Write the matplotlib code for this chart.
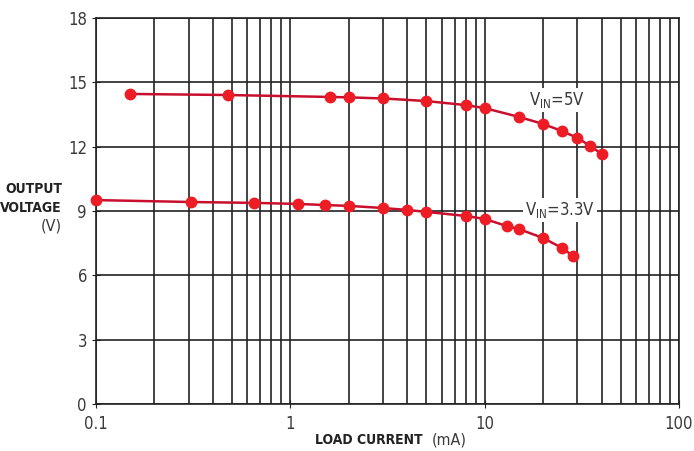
import numpy as np
import matplotlib.pyplot as plt
from matplotlib.ticker import FixedLocator, NullFormatter

# load current (mA) and output voltage (V)
i_5v = [0.15, 0.48, 1.6, 2, 3, 5, 8, 10, 15, 20, 25, 30, 35, 40]
v_5v = [14.46, 14.41, 14.32, 14.3, 14.25, 14.13, 13.94, 13.8, 13.39, 13.06, 12.73, 12.41, 12.03, 11.66]

i_33v = [0.1, 0.31, 0.65, 1.1, 1.5, 2, 3, 4, 5, 8, 10, 13, 15, 20, 25, 28.5]
v_33v = [9.51, 9.42, 9.38, 9.33, 9.28, 9.24, 9.14, 9.05, 8.96, 8.77, 8.63, 8.30, 8.16, 7.74, 7.28, 6.9]

xticks = [0.1, 1, 10, 100]
xlabels = ['0.1', '1', '10', '100']
yticks = [0, 3, 6, 9, 12, 15, 18]

plt.rcParams['font.family'] = ['DejaVu Sans']
plt.rcParams['font.stretch'] = 'condensed'

fig = plt.figure(figsize=(6.94, 4.51), dpi=100)
ax = fig.add_axes([0.1383, 0.1042, 0.8401, 0.8558])

ax.set_xscale('log')
ax.set_xlim(0.1, 100)
ax.set_ylim(0, 18)

minors = [m * d for d in [0.1, 1, 10] for m in range(2, 10)]
ax.xaxis.set_minor_locator(FixedLocator(minors))
ax.xaxis.set_minor_formatter(NullFormatter())
ax.set_xticks(xticks)
ax.set_xticklabels(xlabels)
ax.set_yticks(yticks)

ax.grid(True, which='both', axis='x', color='#222222', lw=1.2)
ax.grid(True, which='major', axis='y', color='#222222', lw=1.2)
for s in ax.spines.values():
    s.set_color('#222222')
    s.set_linewidth(1.2)

ax.tick_params(which='both', direction='inout', length=6, color='#222222',
               labelsize=12, labelcolor='#3a3a3a')
ax.tick_params(which='minor', length=0)
ax.tick_params(axis='x', pad=5)

ax.plot(i_5v, v_5v, color='#c8102e', lw=1.8, marker='o', ms=7.5,
        mfc='#ee1c25', mec='#ee1c25', clip_on=False, zorder=5)
ax.plot(i_33v, v_33v, color='#c8102e', lw=1.8, marker='o', ms=7.5,
        mfc='#ee1c25', mec='#ee1c25', clip_on=False, zorder=5)

box = dict(facecolor='white', edgecolor='none', pad=1.5)
ax.text(23.5, 14.18, r'V$_{\mathregular{IN}}$=5V', fontsize=12, color='#3a3a3a',
        ha='center', va='center', bbox=box, zorder=4)
ax.text(24.5, 9.05, r'V$_{\mathregular{IN}}$=3.3V', fontsize=12, color='#3a3a3a',
        ha='center', va='center', bbox=box, zorder=4)

# axis titles
fig.text(0.6095, 0.0244, 'LOAD CURRENT', fontsize=10, fontweight='bold',
         color='#222222', ha='right', va='center')
fig.text(0.6225, 0.0244, '(mA)', fontsize=11.5, color='#3a3a3a',
         ha='left', va='center')

fig.text(0.0893, 0.581, 'OUTPUT', fontsize=10, fontweight='bold',
         color='#222222', ha='right', va='center')
fig.text(0.0893, 0.539, 'VOLTAGE', fontsize=10, fontweight='bold',
         color='#222222', ha='right', va='center')
fig.text(0.0893, 0.499, '(V)', fontsize=11.5, color='#3a3a3a',
         ha='right', va='center')

fig.savefig('out.png', dpi=100)
